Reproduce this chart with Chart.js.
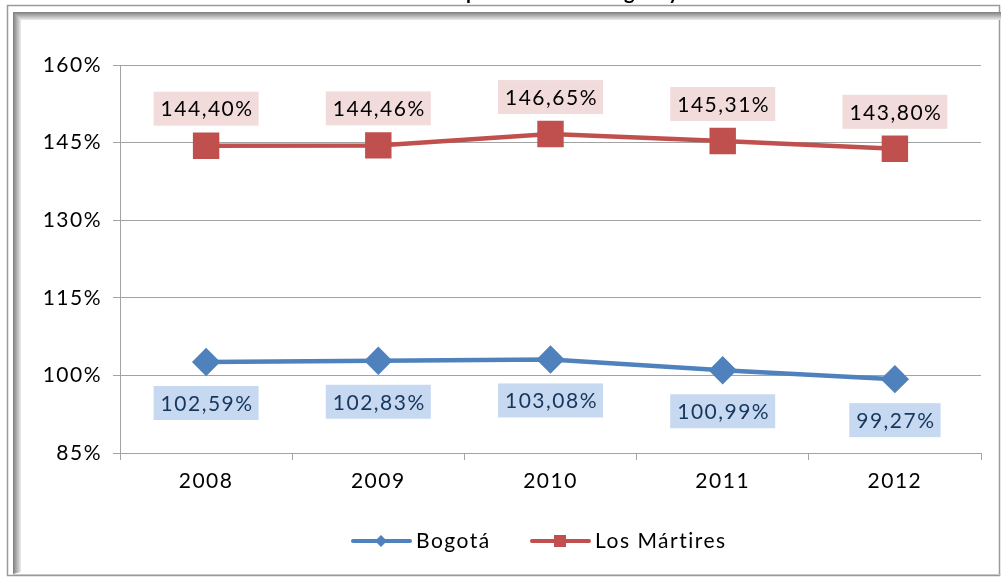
<!DOCTYPE html>
<html>
<head>
<meta charset="utf-8">
<script src="https://cdn.jsdelivr.net/npm/chart.js@4/dist/chart.umd.min.js"></script>
<style>
    html, body { margin: 0; padding: 0; background: #fff; }
    #wrap { position: relative; width: 1001px; height: 578px; }
</style>
</head>
<body>
<div id="wrap"><canvas id="cobertura"></canvas></div>
<script>
// Values
const years = ['2008', '2009', '2010', '2011', '2012'];
const bogota = [102.59, 102.83, 103.08, 100.99, 99.27];
const losMartires = [144.40, 144.46, 146.65, 145.31, 143.80];
const yMin = 85;
const yMax = 160;
const yStep = 15;

const FONT = 'Lato, "Open Sans", sans-serif';
const BLUE = '#4F81BD';
const RED = '#C0504D';
const GRID = '#a3a3a3';

const fmtPct = v => v.toFixed(2).replace('.', ',') + '%';

// Frame around the picture + the clipped title at the very top
const framePlugin = {
    id: 'frame',
    beforeDraw(chart) {
        const c = chart.ctx;
        const W = chart.width, H = chart.height;
        c.letterSpacing = '0px';
        c.save();
        c.fillStyle = '#fff';
        c.fillRect(0, 0, W, H);

        // title, only its descenders are visible
        c.font = 'bold 20px ' + FONT;
        c.fillStyle = '#000';
        c.textBaseline = 'alphabetic';
        const prefix = 'Tasa de cobertura bruta ';
        const x0 = 466 - c.measureText(prefix).width;
        c.fillText(prefix + 'poblacional en Bogotá y Los Mártires', x0, -1);

        // outer thin line
        c.strokeStyle = '#9a9a9a';
        c.lineWidth = 1.5;
        c.strokeRect(7.5, 5.5, W - 9, H - 8);

        // inner shaded band (top and left)
        let g = c.createLinearGradient(0, 12, 0, 20);
        g.addColorStop(0, '#7d7d7d');
        g.addColorStop(1, '#ececec');
        c.fillStyle = g;
        c.fillRect(13, 12, W - 13, 8);
        g = c.createLinearGradient(13, 0, 21, 0);
        g.addColorStop(0, '#7d7d7d');
        g.addColorStop(1, '#ececec');
        c.fillStyle = g;
        c.beginPath();
        c.moveTo(13, 12);
        c.lineTo(21, 20);
        c.lineTo(21, H - 6);
        c.lineTo(13, H - 4);
        c.closePath();
        c.fill();

        // bottom line
        c.strokeStyle = '#c8c8c8';
        c.lineWidth = 1;
        c.beginPath();
        c.moveTo(13, H - 3.5);
        c.lineTo(W, H - 3.5);
        c.stroke();
        c.restore();
        // the original font is wide-set, so space the letters a bit for everything after
        c.letterSpacing = '1.5px';
    },
    afterDraw(chart) {
        chart.ctx.letterSpacing = '0px';
    }
};

// Boxed value labels (above for Los Mártires, below for Bogotá)
const valueLabels = {
    id: 'valueLabels',
    afterDatasetsDraw(chart) {
        const c = chart.ctx;
        c.save();
        c.letterSpacing = '1.5px';
        c.font = '21px ' + FONT;
        c.textAlign = 'center';
        c.textBaseline = 'middle';
        chart.data.datasets.forEach((ds, i) => {
            const meta = chart.getDatasetMeta(i);
            meta.data.forEach((pt, j) => {
                const txt = fmtPct(ds.data[j]);
                const w = c.measureText(txt).width + 12;
                const h = 34;
                const cy = pt.y + ds.labelOffset;
                c.fillStyle = ds.labelBg;
                c.fillRect(pt.x - w / 2, cy - h / 2, w, h);
                c.fillStyle = ds.labelColor;
                c.fillText(txt, pt.x + 1, cy + 1);
            });
        });
        c.restore();
    }
};

// Legend drawn like Excel: line segment with marker in the middle
const legendPlugin = {
    id: 'excelLegend',
    afterDraw(chart) {
        const c = chart.ctx;
        const y = 541;
        const items = [
            { x: 353, color: BLUE, style: 'diamond', label: 'Bogotá' },
            { x: 532, color: RED, style: 'square', label: 'Los Mártires' }
        ];
        c.save();
        c.letterSpacing = '1.5px';
        c.font = '21px ' + FONT;
        c.textBaseline = 'middle';
        items.forEach(it => {
            c.strokeStyle = it.color;
            c.fillStyle = it.color;
            c.lineWidth = 4;
            c.lineCap = 'round';
            c.beginPath();
            c.moveTo(it.x, y);
            c.lineTo(it.x + 57, y);
            c.stroke();
            const mx = it.x + 28;
            c.beginPath();
            if (it.style === 'diamond') {
                c.moveTo(mx, y - 6);
                c.lineTo(mx + 6, y);
                c.lineTo(mx, y + 6);
                c.lineTo(mx - 6, y);
            } else {
                c.rect(mx - 6, y - 6, 12, 12);
            }
            c.closePath();
            c.fill();
            c.fillStyle = '#000';
            c.fillText(it.label, it.x + 63, y);
        });
        c.restore();
    }
};

new Chart(document.getElementById('cobertura'), {
    type: 'line',
    data: {
        labels: years,
        datasets: [
            {
                label: 'Bogotá',
                data: bogota,
                borderColor: BLUE,
                backgroundColor: BLUE,
                borderWidth: 4.5,
                pointStyle: 'rectRot',
                pointRadius: 11,
                pointHoverRadius: 11,
                tension: 0,
                labelBg: '#C6D9F1',
                labelColor: '#17365D',
                labelOffset: 41
            },
            {
                label: 'Los Mártires',
                data: losMartires,
                borderColor: RED,
                backgroundColor: RED,
                borderWidth: 4.5,
                pointStyle: 'rect',
                pointRadius: 15.5,
                pointHoverRadius: 15.5,
                tension: 0,
                labelBg: '#F2DCDB',
                labelColor: '#000',
                labelOffset: -37
            }
        ]
    },
    options: {
        responsive: true,
        maintainAspectRatio: false,
        animation: false,
        layout: {
            padding: { left: 20, right: 19, top: 65, bottom: 85 }
        },
        scales: {
            x: {
                offset: true,
                grid: {
                    offset: true,
                    drawOnChartArea: false,
                    tickLength: 7,
                    color: GRID
                },
                border: { display: true, color: GRID },
                ticks: {
                    font: { family: FONT, size: 21 },
                    color: '#000',
                    padding: 9
                },
                afterFit: s => { s.height = 40; }
            },
            y: {
                min: yMin,
                max: yMax,
                grid: { color: GRID, tickLength: 7 },
                border: { display: true, color: GRID },
                ticks: {
                    stepSize: yStep,
                    font: { family: FONT, size: 21 },
                    color: '#000',
                    padding: 11,
                    callback: v => v + '%'
                },
                afterFit: s => { s.width = 100; }
            }
        },
        plugins: {
            legend: { display: false },
            title: { display: false },
            tooltip: { enabled: false }
        }
    },
    plugins: [framePlugin, valueLabels, legendPlugin]
});
</script>
</body>
</html>
